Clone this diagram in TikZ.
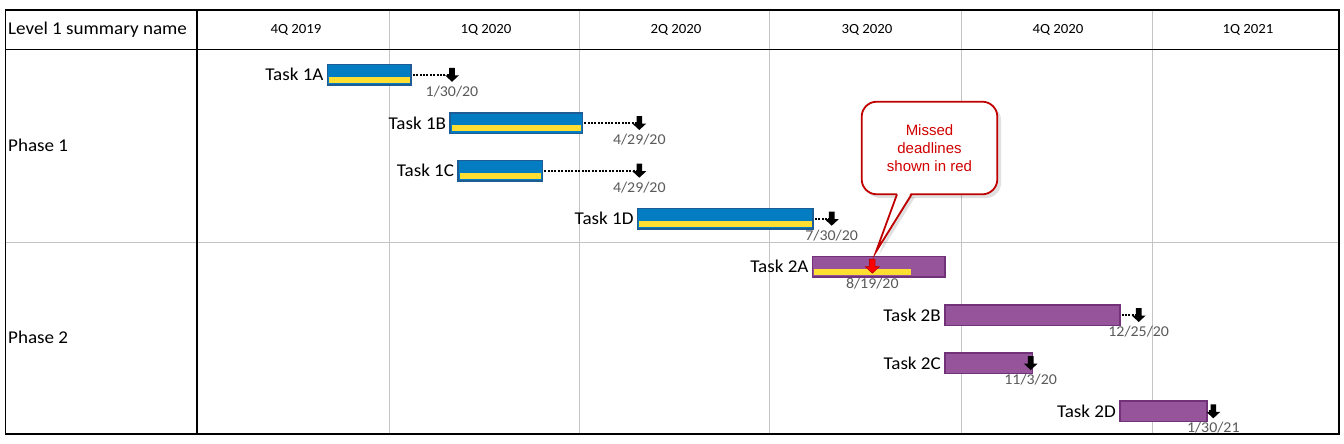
\documentclass[tikz,border=0pt]{standalone}
\usepackage{fontspec}
\setmainfont{Carlito}[FakeStretch=1.06]
\newfontfamily\arialf{Liberation Sans}
\usetikzlibrary{shadows.blur}
\definecolor{barBlue}{RGB}{4,124,194}
\definecolor{barBlueEdge}{RGB}{30,92,150}
\definecolor{barYellow}{RGB}{255,222,50}
\definecolor{barPurple}{RGB}{150,85,155}
\definecolor{barPurpleEdge}{RGB}{114,50,122}
\definecolor{gridGray}{RGB}{196,196,196}
\definecolor{dateGray}{RGB}{90,90,90}
\definecolor{calloutRed}{RGB}{192,0,0}
\definecolor{calloutText}{RGB}{210,0,0}
\tikzset{
  bluebar/.style={draw=barBlueEdge, line width=1.5pt, fill=barBlue, minimum height=20.5pt, inner sep=0pt, anchor=west,
    path picture={\fill[barYellow] ([shift={(1.5pt,1.8pt)}]path picture bounding box.south west) rectangle ([shift={(-1.5pt,-2pt)}]path picture bounding box.east);}},
  purplebar/.style={draw=barPurpleEdge, line width=1.5pt, fill=barPurple, minimum height=20.5pt, inner sep=0pt, anchor=west},
  tasklabel/.style={font=\fontsize{18}{20}\selectfont, inner sep=0pt, anchor=east},
  datelabel/.style={font=\fontsize{15}{17}\selectfont, text=dateGray, inner sep=0pt},
  headlabel/.style={font=\fontsize{14}{17}\selectfont, inner sep=0pt},
  rowlabel/.style={font=\fontsize{18}{20}\selectfont, inner sep=0pt, anchor=west},
  leader/.style={line width=1.8pt, dash pattern=on 2pt off 1.4pt},
  deadline/.pic={\fill[black] (-2.8,-7) -- (2.8,-7) -- (2.8,0.5) -- (7,0.5) -- (0,7) -- (-7,0.5) -- (-2.8,0.5) -- cycle;},
  misseddeadline/.pic={\filldraw[fill=red, draw=calloutRed, line width=0.6pt] (-2.8,-7) -- (2.8,-7) -- (2.8,0.5) -- (7,0.5) -- (0,7) -- (-7,0.5) -- (-2.8,0.5) -- cycle;},
  callouttext/.style={font=\arialf\fontsize{15}{18}\selectfont, text=calloutText, align=center, inner sep=0pt},
}
\begin{document}
\begin{tikzpicture}[x=1pt,y=-1pt]
\useasboundingbox (0,0) rectangle (1344,444);
\fill[white] (0,0) rectangle (1344,444);
% grid
\foreach \gx in {389,579,769,961,1152} \draw[gridGray, line width=1pt] (\gx,10) -- (\gx,434);
\draw[gridGray, line width=1pt] (5.5,242.5) -- (1339,242.5);
\draw[black, line width=1.2pt] (197,10) -- (197,434);
\draw[black, line width=1.2pt] (5.5,49.5) -- (1339,49.5);
\draw[black, line width=1.2pt] (5.5,10) rectangle (1339,434);
% header
\node[rowlabel] (hname) at (8,29.5) {Level 1 summary name};
\node[headlabel] (q1) at (296,29.5) {4Q 2019};
\node[headlabel] (q2) at (486,29.5) {1Q 2020};
\node[headlabel] (q3) at (676,29.5) {2Q 2020};
\node[headlabel] (q4) at (867,29.5) {3Q 2020};
\node[headlabel] (q5) at (1058,29.5) {4Q 2020};
\node[headlabel] (q6) at (1248,29.5) {1Q 2021};
\node[rowlabel] (p1) at (8,145) {Phase 1};
\node[rowlabel] (p2) at (8,337) {Phase 2};
% bars
\node[bluebar, minimum width=83.6pt] (t1a) at (326.7,74.8) {};
\node[bluebar, minimum width=132.4pt] (t1b) at (449.3,123) {};
\node[bluebar, minimum width=84.4pt] (t1c) at (457.3,170.7) {};
\node[bluebar, minimum width=175.6pt] (t1d) at (636.7,218.7) {};
\node[purplebar, minimum width=132.6pt] (t2a) at (811.7,266.7) {};
\fill[barYellow] (814.2,268.8) rectangle (910.7,274.9);
\node[purplebar, minimum width=175pt] (t2b) at (944,315) {};
\node[purplebar, minimum width=87.7pt] (t2c) at (944,363) {};
\node[purplebar, minimum width=87pt] (t2d) at (1119,411.3) {};
% labels
\node[tasklabel] (l1a) at ([xshift=-3pt]t1a.west) {Task 1A};
\node[tasklabel] (l1b) at ([xshift=-3pt]t1b.west) {Task 1B};
\node[tasklabel] (l1c) at ([xshift=-3pt]t1c.west) {Task 1C};
\node[tasklabel] (l1d) at ([xshift=-3pt]t1d.west) {Task 1D};
\node[tasklabel] (l2a) at ([xshift=-3pt]t2a.west) {Task 2A};
\node[tasklabel] (l2b) at ([xshift=-3pt]t2b.west) {Task 2B};
\node[tasklabel] (l2c) at ([xshift=-3pt]t2c.west) {Task 2C};
\node[tasklabel] (l2d) at ([xshift=-3pt]t2d.west) {Task 2D};
% deadline markers
\coordinate (d1a) at (452,74.8);
\coordinate (d1b) at (639.3,123);
\coordinate (d1c) at (639.3,170.7);
\coordinate (d1d) at (831.7,218.7);
\coordinate (d2a) at (872.3,266.2);
\coordinate (d2b) at (1138.7,315);
\coordinate (d2c) at (1030.7,363);
\coordinate (d2d) at (1213.3,411.3);
% leaders
\foreach \t in {1a,1b,1c,1d,2b,2d} \draw[leader] ([xshift=1pt]t\t.east) -- (d\t);
% arrows
\foreach \t in {1a,1b,1c,1d,2b,2c,2d} \pic at (d\t) {deadline};
\pic at (d2a) {misseddeadline};
% dates
\node[datelabel] (e1a) at ([yshift=-16.5pt]d1a) {1/30/20};
\node[datelabel] (e1b) at ([yshift=-17pt]d1b) {4/29/20};
\node[datelabel] (e1c) at ([yshift=-17pt]d1c) {4/29/20};
\node[datelabel] (e1d) at ([yshift=-17pt]d1d) {7/30/20};
\node[datelabel] (e2a) at ([yshift=-17pt]d2a) {8/19/20};
\node[datelabel] (e2b) at ([yshift=-16.5pt]d2b) {12/25/20};
\node[datelabel] (e2c) at ([yshift=-16.5pt]d2c) {11/3/20};
\node[datelabel] (e2d) at ([yshift=-16pt]d2d) {1/30/21};
% callout
\coordinate (tip) at (876,251.7);
\fill[black, opacity=0.12] (865,105) [rounded corners=15pt] rectangle (1001,198);
\fill[black, opacity=0.12] (900,197) -- (879,255) -- (915,197) -- cycle;
\filldraw[fill=white, draw=calloutRed, line width=1.8pt, rounded corners=15pt] (861.7,101.7) rectangle (997.3,194.3);
\fill[white] (897.5,192) -- (tip) -- (911.2,192) -- cycle;
\draw[calloutRed, line width=1.8pt, line join=miter] (897,194.3) -- (tip) -- (911.7,194.3);
\node[callouttext] (note) at (929.5,148) {Missed\\deadlines\\shown in red};
\end{tikzpicture}
\end{document}
